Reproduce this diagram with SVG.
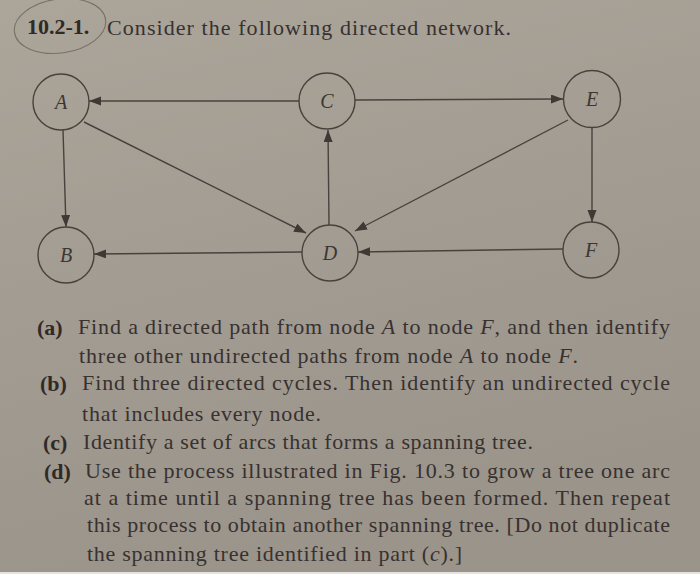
<svg xmlns="http://www.w3.org/2000/svg" width="700" height="574" viewBox="0 0 700 574">
  <defs>
    <linearGradient id="paper" x1="0" y1="0" x2="0.3" y2="1">
      <stop offset="0" stop-color="#aca59a"/>
      <stop offset="0.5" stop-color="#a39c92"/>
      <stop offset="1" stop-color="#9b948a"/>
    </linearGradient>
    <marker id="arr" markerUnits="userSpaceOnUse" markerWidth="13" markerHeight="10" refX="12" refY="4.5" orient="auto">
      <path d="M0,0 L12,4.5 L0,9 z" fill="#3f3935"/>
    </marker>
    <style>
      .node circle { fill: none; stroke: #48423e; stroke-width: 1.4; }
      .node text { font-family: "Liberation Serif", serif; font-style: italic; font-size: 20px; fill: #3c3632; text-anchor: middle; }
      .edge { stroke: #48423e; stroke-width: 1.4; fill: none; marker-end: url(#arr); }
      .t { font-family: "Liberation Serif", serif; font-size: 22px; fill: #373130; }
      .b { font-weight: bold; fill: #302a27; }
      .i { font-style: italic; }
    </style>
  </defs>
  <rect width="700" height="574" fill="url(#paper)"/>
  <rect x="0" y="572" width="700" height="2" fill="#e6e3df"/>

  <!-- pencil circle around the exercise number -->
  <ellipse cx="60" cy="26" rx="46" ry="27" fill="none" stroke="#77706a" stroke-width="1.1" transform="rotate(-8 60 26)"/>

  <text class="t b" x="27" y="34">10.2-1.</text>
  <text class="t" x="107" y="35" textLength="404">Consider the following directed network.</text>

  <g id="connectors">
    <line class="edge" x1="299" y1="101" x2="89" y2="101"/>
    <line class="edge" x1="355" y1="100" x2="563" y2="99"/>
    <line class="edge" x1="63" y1="130" x2="66" y2="227"/>
    <line class="edge" x1="84" y1="122" x2="306" y2="233"/>
    <line class="edge" x1="329" y1="225" x2="328" y2="130"/>
    <line class="edge" x1="302" y1="252" x2="94" y2="254"/>
    <line class="edge" x1="568" y1="120" x2="355" y2="231"/>
    <line class="edge" x1="592" y1="128" x2="592" y2="222"/>
    <line class="edge" x1="563" y1="249" x2="358" y2="252"/>
  </g>

  <g id="node-A" class="node"><circle cx="61" cy="102" r="28"/><text x="61" y="109">A</text></g>
  <g id="node-C" class="node"><circle cx="327" cy="101" r="28"/><text x="327" y="108">C</text></g>
  <g id="node-E" class="node"><circle cx="592" cy="99" r="28.5"/><text x="592" y="106">E</text></g>
  <g id="node-B" class="node"><circle cx="66" cy="255" r="28"/><text x="66" y="262">B</text></g>
  <g id="node-D" class="node"><circle cx="330" cy="253" r="28"/><text x="330" y="260">D</text></g>
  <g id="node-F" class="node"><circle cx="591" cy="250" r="28"/><text x="591" y="257">F</text></g>

  <text class="t b" x="37" y="335">(a)</text>
  <text class="t" x="78" y="334" textLength="592">Find a directed path from node <tspan class="i">A</tspan> to node <tspan class="i">F</tspan>, and then identify</text>
  <text class="t" x="79" y="363" textLength="499">three other undirected paths from node <tspan class="i">A</tspan> to node <tspan class="i">F</tspan>.</text>
  <text class="t b" x="40" y="391">(b)</text>
  <text class="t" x="82" y="390" textLength="588">Find three directed cycles. Then identify an undirected cycle</text>
  <text class="t" x="82" y="421" textLength="239">that includes every node.</text>
  <text class="t b" x="43" y="450">(c)</text>
  <text class="t" x="83" y="449" textLength="450">Identify a set of arcs that forms a spanning tree.</text>
  <text class="t b" x="44" y="479">(d)</text>
  <text class="t" x="85" y="478" textLength="585">Use the process illustrated in Fig. 10.3 to grow a tree one arc</text>
  <text class="t" x="84" y="505" textLength="586">at a time until a spanning tree has been formed. Then repeat</text>
  <text class="t" x="87" y="532" textLength="583">this process to obtain another spanning tree. [Do not duplicate</text>
  <text class="t" x="87" y="561" textLength="375">the spanning tree identified in part (<tspan class="i">c</tspan>).]</text>
</svg>
